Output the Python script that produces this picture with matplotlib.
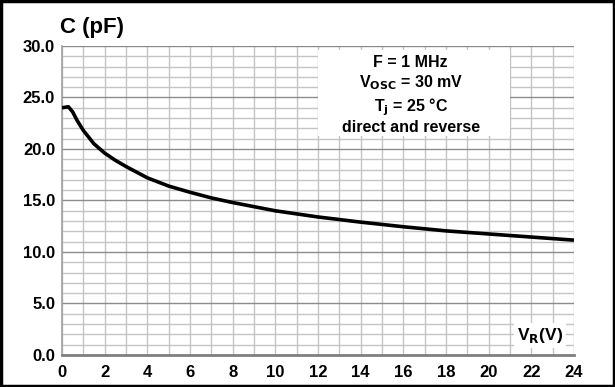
import numpy as np
import matplotlib.pyplot as plt
from matplotlib.patches import Rectangle
from matplotlib.ticker import MultipleLocator

plt.rcParams['font.family'] = ['Liberation Sans', 'DejaVu Sans']
plt.rcParams['font.weight'] = 'bold'

# capacitance vs reverse voltage
vr = [0, 0.3, 0.5, 0.7, 1.0, 1.5, 2.0, 2.5, 3.0, 4.0, 5.0, 6.0, 7.0, 8.0,
      10.0, 12.0, 14.0, 16.0, 18.0, 20.0, 22.0, 24.0]
cap = [24.0, 24.1, 23.6, 22.8, 21.8, 20.5, 19.6, 18.9, 18.3, 17.2, 16.4, 15.8,
       15.25, 14.8, 14.0, 13.4, 12.9, 12.45, 12.05, 11.75, 11.45, 11.15]

x_ticks = list(range(0, 25, 2))
y_ticks = [0, 5, 10, 15, 20, 25, 30]
cond_lines = ['F = 1 MHz', r'V$_{\mathbf{OSC}}$ = 30 mV', r'T$_{\mathbf{j}}$ = 25 °C',
              'direct and reverse']

fig = plt.figure(figsize=(6.15, 3.87), dpi=100)
ax = fig.add_axes([0.1008, 0.0827, 0.8325, 0.7985])

ax.set_xlim(0, 24)
ax.set_ylim(0, 30)
ax.xaxis.set_minor_locator(MultipleLocator(1))
ax.yaxis.set_minor_locator(MultipleLocator(1))
ax.set_xticks(x_ticks)
ax.set_yticks(y_ticks)
ax.set_yticklabels([f'{v:.1f}' for v in y_ticks])

ax.grid(which='minor', color='#c4c4c4', linewidth=1.0)
ax.grid(which='major', axis='x', color='#c4c4c4', linewidth=1.0)
ax.grid(which='major', axis='y', color='#8c8c8c', linewidth=1.0)
ax.set_axisbelow(True)
ax.tick_params(which='both', length=0, labelsize=12)
ax.tick_params(axis='y', pad=5)
ax.tick_params(axis='x', pad=7)
for lab in ax.get_xticklabels() + ax.get_yticklabels():
    lab.set_fontweight('bold')

for s in ['top', 'right']:
    ax.spines[s].set_visible(False)
ax.spines['left'].set_color('#a0a0a0')
ax.spines['left'].set_linewidth(1.2)
ax.spines['bottom'].set_color('#808080')
ax.spines['bottom'].set_linewidth(2)

ax.plot(vr, cap, color='black', linewidth=2.6, zorder=4,
        solid_capstyle='butt')

# conditions box
ax.add_patch(Rectangle((12.0, 21.3), 9.0, 8.3, facecolor='white',
                       edgecolor='none', zorder=3))
ys = [28.4, 26.4, 24.1, 22.1]
for t, yy in zip(cond_lines, ys):
    ax.text(16.35, yy, t, ha='center', va='center', fontsize=11.5,
            fontweight='bold', zorder=5)

ax.text(22.4, 1.9, r'V$_{\mathbf{R}}$(V)', ha='center', va='center',
        fontsize=12.5, fontweight='bold', zorder=5,
        bbox=dict(facecolor='white', edgecolor='none', pad=2))

fig.text(0.0976, 0.928, 'C (pF)', ha='left', va='center', fontsize=16,
         fontweight='bold')

fig.patches.append(Rectangle((0.002, 0.003), 0.996, 0.994,
                             transform=fig.transFigure, fill=False,
                             edgecolor='black', linewidth=2.5))

fig.savefig('out.png', dpi=100)
